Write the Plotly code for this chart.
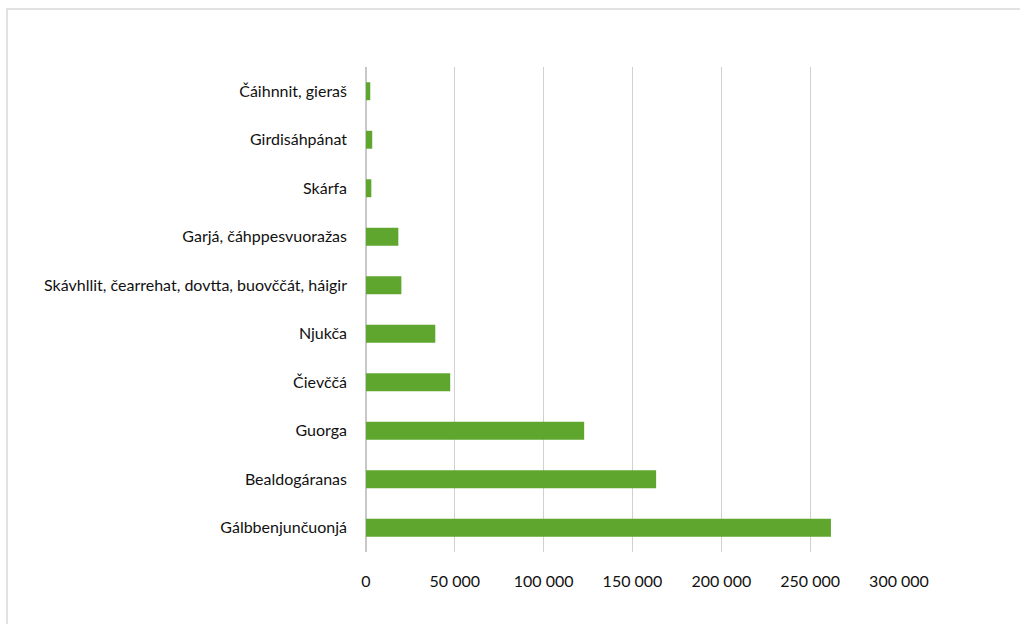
import plotly.graph_objects as go

categories = [
    "Gálbbenjunčuonjá",
    "Bealdogáranas",
    "Guorga",
    "Čievččá",
    "Njukča",
    "Skávhllit, čearrehat, dovtta, buovččát, háigir",
    "Garjá, čáhppesvuoražas",
    "Skárfa",
    "Girdisáhpánat",
    "Čáihnnit, gieraš",
]
values = [261700, 163300, 122800, 47400, 39000, 19900, 18200, 3000, 3500, 2400]
tick_vals = [0, 50000, 100000, 150000, 200000, 250000, 300000]

FONT = "Lato, sans-serif"

W, H = 1020, 624
L, R, T, B = 366, 121, 67, 72
pw, ph = W - L - R, H - T - B

fig = go.Figure(
    go.Bar(
        x=values,
        y=categories,
        orientation="h",
        marker=dict(color="#5fa62e", line=dict(width=0)),
        width=0.37,
        hoverinfo="x+y",
    )
)

fig.update_layout(
    width=W,
    height=H,
    margin=dict(l=L, r=R, t=T, b=B, autoexpand=False),
    paper_bgcolor="white",
    plot_bgcolor="white",
    showlegend=False,
    separators=". ",
    font=dict(family=FONT, size=16, color="#111111"),
    xaxis=dict(
        range=[0, 300000],
        tickvals=tick_vals,
        tickformat=",d",
        showgrid=True,
        gridcolor="#d0d0d0",
        gridwidth=1,
        zeroline=True,
        zerolinecolor="#c8c8c8",
        zerolinewidth=1.5,
        showline=False,
        ticks="",
        ticklabelstandoff=18,
        tickfont=dict(family=FONT, size=16, color="#111111"),
        fixedrange=True,
    ),
    yaxis=dict(
        categoryorder="array",
        categoryarray=categories,
        showgrid=False,
        zeroline=False,
        showline=False,
        ticks="",
        ticklabelstandoff=18,
        tickfont=dict(family=FONT, size=16, color="#111111"),
        fixedrange=True,
    ),
    shapes=[
        dict(
            type="rect",
            xref="paper",
            yref="paper",
            x0=(7 - L) / pw,
            x1=(W + 20 - L) / pw,
            y0=(H - B - (H + 20)) / ph,
            y1=(H - B - 9) / ph,
            line=dict(color="#d9d9d9", width=1.5),
            fillcolor="rgba(0,0,0,0)",
            layer="below",
        )
    ],
)

fig.write_html(
    "out.html",
    config={"displayModeBar": False},
    post_script="document.body.style.margin='0';document.body.style.padding='0';",
)
